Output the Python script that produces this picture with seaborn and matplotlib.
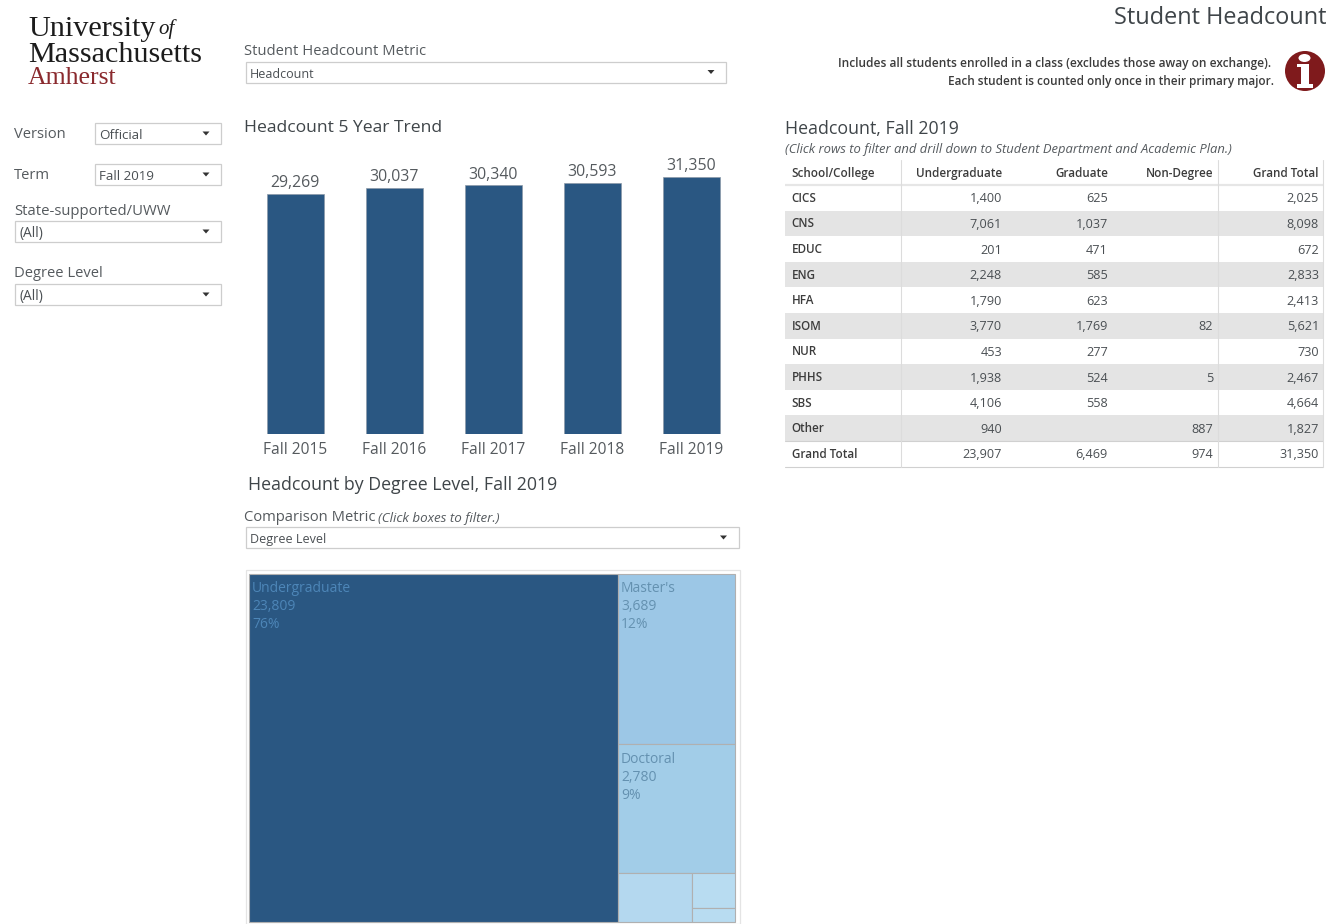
import matplotlib
matplotlib.use("Agg")
import matplotlib.pyplot as plt
from matplotlib.patches import Rectangle, Circle, Ellipse, Polygon
import pandas as pd
import seaborn as sns

# Fall headcount trend
terms = ["Fall 2015", "Fall 2016", "Fall 2017", "Fall 2018", "Fall 2019"]
headcounts = [29269, 30037, 30340, 30593, 31350]

# Degree level breakdown for the treemap
degree_names = ["Undergraduate", "Master's", "Doctoral", "Certificate", "Non-Degree", "Other"]
degree_values = [23809, 3689, 2780, 680, 285, 107]
degree_pcts = ["76%", "12%", "9%", "", "", ""]

# School/college table
table_columns = ["School/College", "Undergraduate", "Graduate", "Non-Degree", "Grand Total"]
schools = ["CICS", "CNS", "EDUC", "ENG", "HFA", "ISOM", "NUR", "PHHS", "SBS", "Other", "Grand Total"]
undergraduate = ["1,400", "7,061", "201", "2,248", "1,790", "3,770", "453", "1,938", "4,106", "940", "23,907"]
graduate = ["625", "1,037", "471", "585", "623", "1,769", "277", "524", "558", "", "6,469"]
non_degree = ["", "", "", "", "", "82", "", "5", "", "887", "974"]
grand_total = ["2,025", "8,098", "672", "2,833", "2,413", "5,621", "730", "2,467", "4,664", "1,827", "31,350"]

W, H = 1339, 924
NAVY = "#2a5782"
UI = "Open Sans"
TITLE_C = "#3f4549"
LABEL_C = "#555a5e"

sns.set_theme(style="white")
plt.rcParams["font.family"] = [UI, "DejaVu Sans"]

fig = plt.figure(figsize=(W / 100, H / 100), dpi=100, facecolor="white")


def px_axes(x0, y0, x1, y1):
    """Axes placed by dashboard pixel box (y measured from the top)."""
    return fig.add_axes([x0 / W, 1 - y1 / H, (x1 - x0) / W, (y1 - y0) / H])


# Dashboard canvas in pixel units for controls, captions and the table
canvas = fig.add_axes([0, 0, 1, 1], zorder=0)
canvas.set_xlim(0, W)
canvas.set_ylim(H, 0)
canvas.axis("off")


def label(x, y, s, size=10, color=LABEL_C, ha="left", **kw):
    canvas.text(x, y + 2.5, s, fontsize=size, color=color, ha=ha, va="center", **kw)


def dropdown(x0, y0, x1, y1, s, arrow_x=None, size=9):
    canvas.add_patch(Rectangle((x0, y0), x1 - x0, y1 - y0, fc="white", ec="#cdcdcd", lw=0.9))
    label(x0 + 4, (y0 + y1) / 2 - 0.5, s, size=size, color="#4a4f53")
    ax_ = arrow_x if arrow_x is not None else x1 - 15
    my = (y0 + y1) / 2
    canvas.add_patch(Polygon([(ax_ - 3.5, my - 2), (ax_ + 3.5, my - 2), (ax_, my + 2)], fc="#333333", ec="none"))


# University wordmark
label(28, 27, "University", size=21.8, color="#1c1c1c", family="Liberation Serif")
label(158, 27, "of", size=15, color="#1c1c1c", family="Liberation Serif", style="italic")
label(28, 52, "Massachusetts", size=21.7, color="#1c1c1c", family="Liberation Serif")
label(28, 76, "Amherst", size=18.5, color="#8a2a2e", family="Liberation Serif")

# Left-hand filters
label(14, 132, "Version", size=10.6)
dropdown(95, 123, 221, 144, "Official", arrow_x=206, size=9.6)
label(14, 173, "Term", size=10.6)
dropdown(95, 164, 221, 185, "Fall 2019", arrow_x=206, size=9.6)
label(14, 209, "State-supported/UWW", size=10.7)
dropdown(15, 221, 221, 242, "(All)", arrow_x=206, size=10)
label(14, 271, "Degree Level", size=10.6)
dropdown(15, 284, 221, 305, "(All)", arrow_x=206, size=10)

# Metric selectors and section titles
label(244.5, 49, "Student Headcount Metric", size=10.6)
dropdown(245.5, 61.5, 726, 82.5, "Headcount", arrow_x=711)
label(244.5, 125.5, "Headcount 5 Year Trend", size=12.6, color=TITLE_C)
label(248, 483, "Headcount by Degree Level, Fall 2019", size=12.8, color=TITLE_C)
label(244.5, 515, "Comparison Metric", size=10.6)
label(378, 516, "(Click boxes to filter.)", size=9.6, style="italic")
dropdown(245.5, 527, 738.5, 548, "Degree Level", arrow_x=723.5)

# Page header and note
label(1327, 15.5, "Student Headcount", size=16.9, color=TITLE_C, ha="right")
label(1271, 61.5, "Includes all students enrolled in a class (excludes those away on exchange).",
      size=8.6, color="#3c3c3c", ha="right", fontweight="semibold")
label(1274, 78.5, "Each student is counted only once in their primary major.",
      size=8.5, color="#3c3c3c", ha="right", fontweight="semibold")
canvas.add_patch(Circle((1305, 71), 20, fc="#7f1a1c", ec="none"))
canvas.add_patch(Ellipse((1304.5, 58), 12, 8, fc="white", ec="none"))
canvas.add_patch(Rectangle((1300.5, 64), 8, 20, fc="white", ec="none"))
canvas.add_patch(Rectangle((1297, 84), 16, 4, fc="white", ec="none"))
canvas.add_patch(Rectangle((1297, 64), 5, 3, fc="white", ec="none"))

# Trend bars
PX_PER_STUDENT = 257 / 31350
bar_top, bar_bottom = 150, 434
bars_ax = px_axes(245.5, bar_top, 740.5, bar_bottom)
bars_ax.patch.set_alpha(0)
trend = pd.DataFrame({"term": terms, "headcount": headcounts})
sns.barplot(data=trend, x="term", y="headcount", color=NAVY, saturation=1, width=57 / 99,
            edgecolor="#8c9aa8", linewidth=0.5, ax=bars_ax)
bars_ax.set_ylim(0, (bar_bottom - bar_top) / PX_PER_STUDENT)
bars_ax.set_xlim(-0.5, 4.5)
bars_ax.set(xlabel="", ylabel="", yticks=[])
sns.despine(ax=bars_ax, left=True, bottom=True)
bars_ax.tick_params(axis="x", length=0, pad=6, labelsize=11.2, labelcolor=LABEL_C)
for container in bars_ax.containers:
    bars_ax.bar_label(container, labels=[f"{v:,}" for v in headcounts], padding=2,
                      fontsize=11.4, color=LABEL_C)

# Treemap: slice the frame by value, undergraduate first, then stack the rest
canvas.add_patch(Rectangle((245.5, 570), 494, 354, fc="white", ec="#e4e4e4", lw=0.9))
tree_ax = px_axes(249, 574, 735, 922)
tree_ax.axis("off")
tree_ax.set_xlim(0, 1)
tree_ax.set_ylim(1, 0)
total = sum(degree_values)
fills = [NAVY, "#9cc7e6", "#a2cde8", "#b4d8ef", "#b8dcf1", "#b8dcf1"]
text_cols = ["#4d86b8", "#6491b0", "#6491b0"]
split_x = degree_values[0] / total
rest = total - degree_values[0]
tail = sum(degree_values[3:])
master_h = degree_values[1] / rest
doctoral_h = degree_values[2] / rest
small_y = master_h + doctoral_h
small_h = 1 - small_y
small_w = (1 - split_x) * degree_values[3] / tail
side = degree_values[4] + degree_values[5]
cells = [
    (0, 0, split_x, 1),
    (split_x, 0, 1 - split_x, master_h),
    (split_x, master_h, 1 - split_x, doctoral_h),
    (split_x, small_y, small_w, small_h),
    (split_x + small_w, small_y, 1 - split_x - small_w, small_h * degree_values[4] / side),
    (split_x + small_w, small_y + small_h * degree_values[4] / side, 1 - split_x - small_w,
     small_h * degree_values[5] / side),
]
for i, (x, y, w, h) in enumerate(cells):
    tree_ax.add_patch(Rectangle((x, y), w, h, fc=fills[i], ec="#b0b0b0", lw=0.8, clip_on=False))
    if degree_pcts[i]:
        lines = [degree_names[i], f"{degree_values[i]:,}", degree_pcts[i]]
        for j, s in enumerate(lines):
            tree_ax.annotate(s, (x, y), xytext=(3, -15 - j * 18), textcoords="offset pixels",
                             fontsize=10, color=text_cols[i], va="center", ha="left")

# School/college table
label(785, 127, "Headcount, Fall 2019", size=12.8, color=TITLE_C)
label(785, 146.5, "(Click rows to filter and drill down to Student Department and Academic Plan.)",
      size=9.4, style="italic")
row_h = 25.6
row_y0 = 185
left, right = 785, 1323
for i, school in enumerate(schools):
    y0 = row_y0 + i * row_h
    if i % 2 == 1 and i < 10:
        canvas.add_patch(Rectangle((left, y0), right - left, row_h, fc="#e4e4e4", ec="none"))
    yc = y0 + row_h / 2
    label(791.5, yc - 2, school, size=8.4, color="#3c3c3c", fontweight="semibold")
    for x, col in zip((1002, 1108, 1213, 1319), (undergraduate, graduate, non_degree, grand_total)):
        label(x, yc - 1.5, col[i], size=9.1, color="#4a4f53", ha="right")
for x, s in zip((791.5, 1002, 1108, 1213, 1318.5), table_columns):
    label(x, 171, s, size=8.4, color="#3c3c3c", ha="left" if s == table_columns[0] else "right",
          fontweight="semibold")
canvas.plot([left, right], [185, 185], color="#e6e6e6", lw=1.6, solid_capstyle="butt")
canvas.plot([left, right], [441, 441], color="#d0d0d0", lw=0.8)
canvas.plot([left, right], [466.5, 466.5], color="#d0d0d0", lw=0.8)
for x in (901, 1217.5, 1323):
    canvas.plot([x, x], [160, 466.5], color="#dcdcdc", lw=0.8)

fig.savefig("out.png", dpi=100, facecolor="white")
